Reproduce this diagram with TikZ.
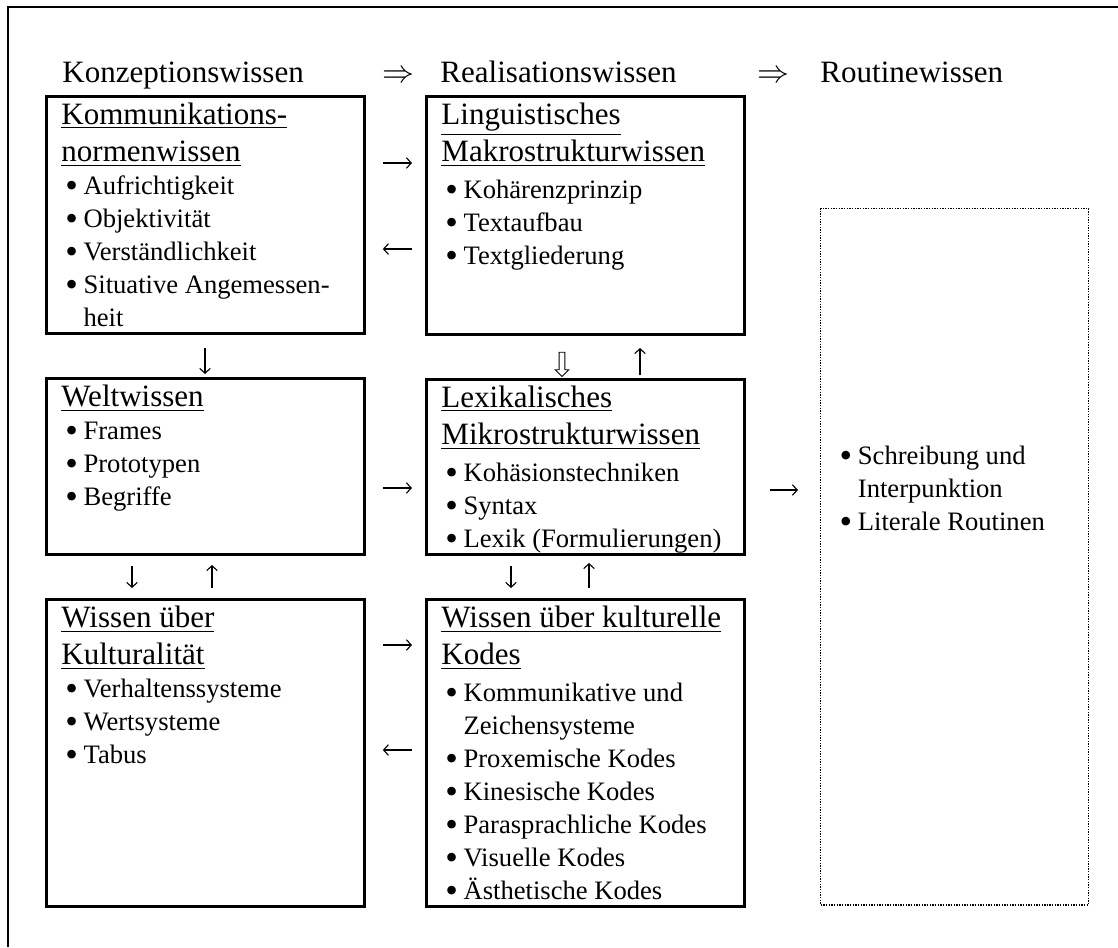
\documentclass[tikz,border=0pt]{standalone}
\usepackage{fontspec}
\setmainfont{Liberation Serif}
\usetikzlibrary{arrows.meta,positioning,calc,shapes.arrows}

\newdimen\px \px=0.451pt
\newcommand{\hdr}{\fontsize{14}{16.7}\selectfont}
\newcommand{\itm}{\fontsize{12}{14.9}\selectfont}
\newcommand{\bul}[1]{\hspace*{1.8pt}\makebox[8.2pt][l]{\raisebox{-1.3pt}{\scalebox{1.35}{\textbullet}}}#1}
\newcommand{\cnt}[1]{\hspace*{10pt}#1}
\newcommand{\inhalt}[3]{\parbox[t][#2\px][t]{#1\px}{\raggedright #3}}

\begin{document}
\begin{tikzpicture}[x=0.451pt, y=-0.451pt,
  kbox/.style={draw, line width=1.2pt, anchor=north west, inner xsep=6.8pt, inner ysep=3pt},
  dotbox/.style={draw, line width=0.6pt, dash pattern=on 0.6pt off 0.6pt, anchor=north west, inner xsep=6.8pt, inner ysep=3pt},
  kopf/.style={anchor=base west, inner sep=0pt, font=\hdr},
  pfeil/.style={line width=0.5pt, -{Straight Barb[length=2.2pt,width=4.8pt]}},
  hohl/.style={single arrow, draw, line width=0.4pt, shape border rotate=270, inner sep=1.1pt,
    single arrow head extend=1.8pt, single arrow tip angle=90, minimum height=11pt}]

\useasboundingbox (0,0) rectangle (1118,947);

% outer frame (runs off the page at right and bottom)
\draw[line width=1.2pt] (1118,7) -- (8,7) -- (8,947);

% column titles
\node[kopf] (t1) at (62,82) {Konzeptionswissen};
\node[kopf] (p1) at (382,82) {$\Rightarrow$};
\node[kopf] (t2) at (440,82) {Realisationswissen};
\node[kopf] (p2) at (757,82) {$\Rightarrow$};
\node[kopf] (t3) at (820,82) {Routinewissen};

% row 1
\node[kbox] (kom) at (45,95) {\inhalt{288}{224}{%
  {\hdr\underline{Kommunikations-}\\\underline{normenwissen}\par}
  {\itm\bul{Aufrichtigkeit}\\\bul{Objektivität}\\\bul{Verständlichkeit}\\
   \bul{Situative Angemessen-}\\\cnt{heit}\par}}};
\node[kbox] (lin) at (425,95) {\inhalt{288}{225}{%
  {\hdr\underline{Linguistisches}\\\underline{Makrostrukturwissen}\par}
  \vspace{1.8pt}
  {\itm\bul{Kohärenzprinzip}\\\bul{Textaufbau}\\\bul{Textgliederung}\par}}};

% row 2
\node[kbox] (wel) at (45,377) {\inhalt{288}{163}{%
  {\hdr\underline{Weltwissen}\par}
  {\itm\bul{Frames}\\\bul{Prototypen}\\\bul{Begriffe}\par}}};
\node[kbox] (lex) at (425,378) {\inhalt{288}{162}{%
  {\hdr\underline{Lexikalisches}\\\underline{Mikrostrukturwissen}\par}
  \vspace{1.8pt}
  {\itm\bul{Kohäsionstechniken}\\\bul{Syntax}\\\bul{Lexik (Formulierungen)}\par}}};

% row 3
\node[kbox] (kul) at (45,598) {\inhalt{288}{294}{%
  {\hdr\underline{Wissen über}\\\underline{Kulturalität}\par}
  {\itm\bul{Verhaltenssysteme}\\\bul{Wertsysteme}\\\bul{Tabus}\par}}};
\node[kbox] (kod) at (425,598) {\inhalt{288}{294}{%
  {\hdr\underline{Wissen über kulturelle}\\\underline{Kodes}\par}
  \vspace{1.8pt}
  {\itm\bul{Kommunikative und}\\\cnt{Zeichensysteme}\\\bul{Proxemische Kodes}\\
   \bul{Kinesische Kodes}\\\bul{Parasprachliche Kodes}\\\bul{Visuelle Kodes}\\
   \bul{Ästhetische Kodes}\par}}};

% routine knowledge
\node[dotbox] (rou) at (820,208) {\inhalt{238}{683}{%
  \vspace*{231\px}
  {\itm\bul{Schreibung und}\\\cnt{Interpunktion}\\\bul{Literale Routinen}\par}}};

% horizontal arrows
\draw[pfeil] ($(kom.north east)+(17,68)$) -- ($(lin.north west)+(-13,68)$);
\draw[pfeil] ($(lin.north west)+(-13,154)$) -- ($(kom.north east)+(17,154)$);
\draw[pfeil] ($(wel.north east)+(17,111)$) -- ($(lex.north west)+(-13,110)$);
\draw[pfeil] ($(kul.north east)+(17,47)$) -- ($(kod.north west)+(-13,47)$);
\draw[pfeil] ($(kod.north west)+(-13,152)$) -- ($(kul.north east)+(17,152)$);
\draw[pfeil] ($(lex.north east)+(24,112)$) -- ($(rou.north west)+(-22,282)$);

% vertical arrows
\draw[pfeil] ($(kom.south west)+(160,13)$) -- ($(wel.north west)+(160,-3)$);
\node[hohl] (hol) at ($(lin.south west)+(137,27)$) {};
\draw[pfeil] ($(lex.north west)+(215,-3)$) -- ($(lin.south west)+(215,12)$);
\draw[pfeil] ($(wel.south west)+(87,10)$) -- ($(kul.north west)+(87,-10)$);
\draw[pfeil] ($(kul.north west)+(167,-10)$) -- ($(wel.south west)+(167,9)$);
\draw[pfeil] ($(lex.south west)+(86,10)$) -- ($(kod.north west)+(86,-10)$);
\draw[pfeil] ($(kod.north west)+(164,-10)$) -- ($(lex.south west)+(164,7)$);

\end{tikzpicture}
\end{document}
